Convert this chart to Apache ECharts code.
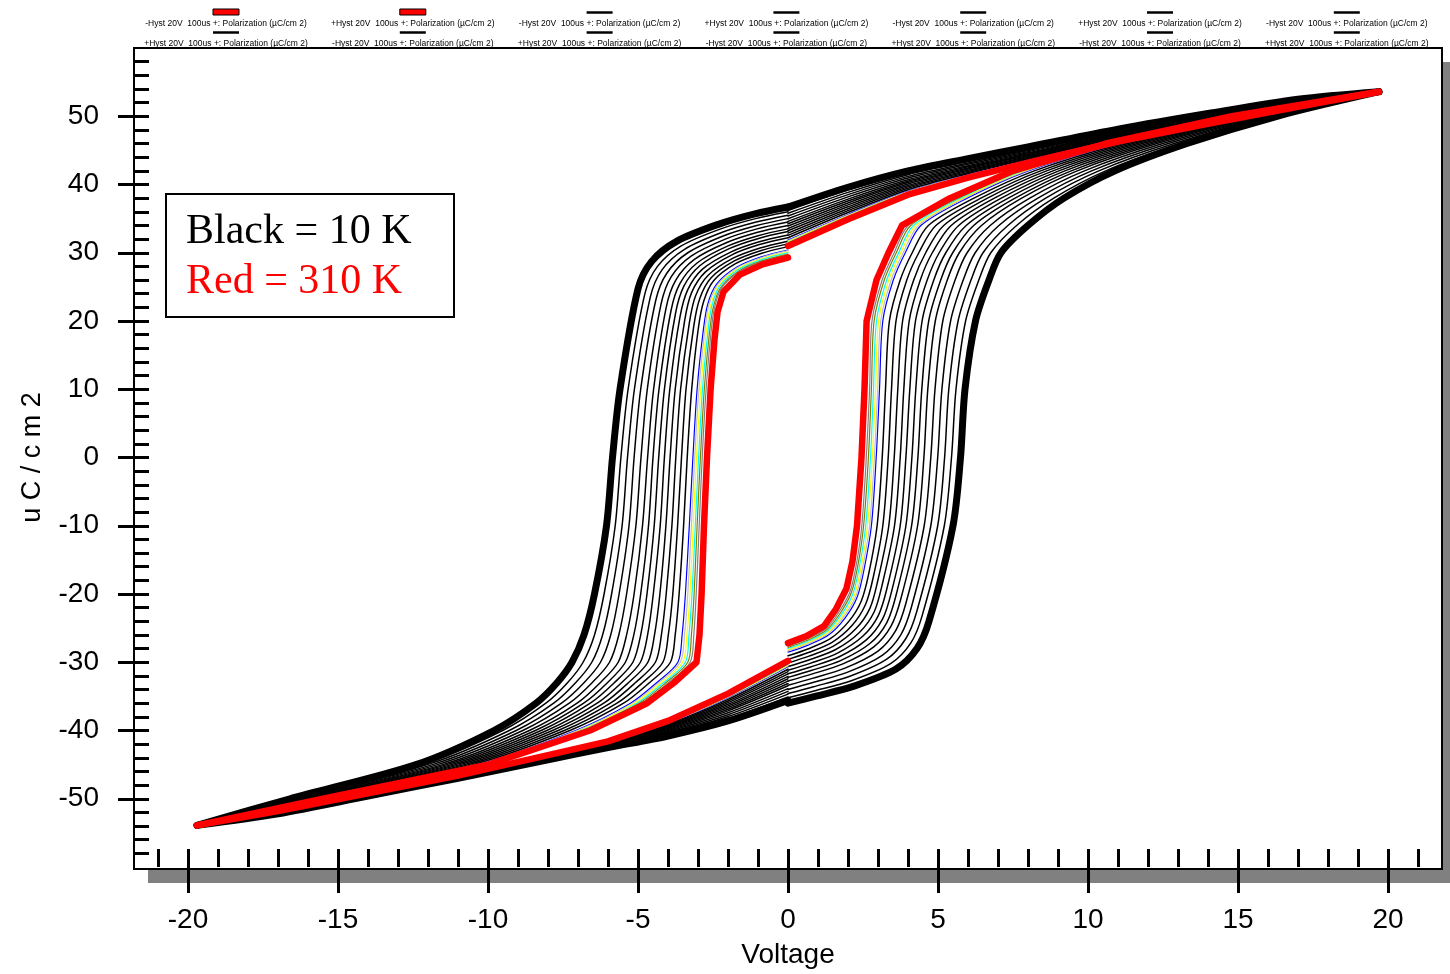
<!DOCTYPE html>
<html>
<head>
<meta charset="utf-8">
<script src="https://cdn.jsdelivr.net/npm/echarts@6/dist/echarts.min.js"></script>
<style>
  html, body { margin: 0; padding: 0; background: #fff; }
  #chart { width: 1450px; height: 974px; }
</style>
</head>
<body>
<div id="chart"></div>
<script>
// Ferroelectric hysteresis loops, 10 K (thick black) to 310 K (thick red).
// Loop order in every table below: 10 K, twelve intermediate black loops,
// six coloured loops, 310 K.
// Each loop is measured as two sweeps: "-Hyst" (0 -> -20 V -> 0) and "+Hyst" (0 -> +20 V -> 0).

const negName = '-Hyst 20V  100us +: Polarization (\u00b5C/cm 2)';
const posName = '+Hyst 20V  100us +: Polarization (\u00b5C/cm 2)';

const loopColors = ['#000000',
  '#000000', '#000000', '#000000', '#000000', '#000000', '#000000',
  '#000000', '#000000', '#000000', '#000000', '#000000', '#000000',
  '#0000ff', '#c0c0c0', '#ffff00', '#00ffff', '#808000', '#808080',
  '#ff0000'];

// sweep tips (V, uC/cm2)
const tipV = 19.7;
const negTipP = -53.9;
const posTipP = 53.6;

// ---- "-Hyst", outgoing half: V = 0 -> -20 (switching branch, upper left) ----
const cStartP = [36.7, 36.0, 35.5, 35.0, 34.5, 34.0, 33.5, 33.1, 32.6, 32.2, 31.7, 31.3, 30.9, 30.4, 30.3, 30.1, 30.0, 29.8, 29.7, 29.3];
// knee: voltage reached once P has dropped by these amounts below its start value
const cKneeDrop = [1, 2.5, 5, 8, 12];
const cKneeV = [
  [-1.10, -1.08, -1.06, -1.04, -1.03, -1.01, -1.00, -0.98, -0.96, -0.95, -0.93, -0.92, -0.90, -0.89, -0.88, -0.88, -0.87, -0.87, -0.86, -0.85],
  [-2.30, -2.24, -2.19, -2.14, -2.09, -2.04, -2.00, -1.96, -1.91, -1.87, -1.83, -1.79, -1.75, -1.70, -1.69, -1.68, -1.66, -1.65, -1.63, -1.60],
  [-3.70, -3.56, -3.45, -3.34, -3.23, -3.13, -3.03, -2.94, -2.85, -2.75, -2.66, -2.57, -2.48, -2.38, -2.35, -2.32, -2.29, -2.26, -2.23, -2.15],
  [-4.55, -4.35, -4.20, -4.04, -3.89, -3.74, -3.60, -3.47, -3.34, -3.21, -3.08, -2.94, -2.81, -2.68, -2.64, -2.59, -2.55, -2.50, -2.46, -2.35],
  [-5.00, -4.77, -4.59, -4.41, -4.23, -4.06, -3.90, -3.75, -3.60, -3.44, -3.29, -3.14, -2.99, -2.83, -2.78, -2.73, -2.68, -2.63, -2.58, -2.45]
];
// switching and tail: voltage at fixed polarization levels
const cLevelP = [10, 0, -10, -20, -26, -30, -33, -36, -40, -45, -50];
const cLevelV = [
  [-5.60, -5.33, -5.12, -4.91, -4.69, -4.48, -4.30, -4.12, -3.94, -3.76, -3.58, -3.40, -3.21, -3.03, -2.97, -2.91, -2.85, -2.79, -2.73, -2.58],
  [-5.85, -5.57, -5.35, -5.13, -4.90, -4.68, -4.50, -4.31, -4.12, -3.93, -3.74, -3.55, -3.36, -3.17, -3.11, -3.05, -2.98, -2.92, -2.86, -2.70],
  [-6.05, -5.76, -5.53, -5.30, -5.07, -4.85, -4.65, -4.46, -4.26, -4.07, -3.87, -3.68, -3.48, -3.29, -3.22, -3.16, -3.09, -3.03, -2.96, -2.80],
  [-6.45, -6.13, -5.88, -5.63, -5.38, -5.13, -4.91, -4.70, -4.49, -4.27, -4.06, -3.84, -3.63, -3.42, -3.34, -3.27, -3.20, -3.13, -3.06, -2.88],
  [-6.80, -6.45, -6.18, -5.91, -5.64, -5.38, -5.14, -4.91, -4.68, -4.45, -4.22, -3.99, -3.76, -3.53, -3.45, -3.37, -3.30, -3.22, -3.14, -2.95],
  [-7.20, -6.83, -6.54, -6.25, -5.95, -5.66, -5.42, -5.17, -4.92, -4.67, -4.42, -4.17, -3.92, -3.67, -3.59, -3.51, -3.42, -3.34, -3.26, -3.05],
  [-7.70, -7.35, -7.08, -6.80, -6.53, -6.26, -6.02, -5.79, -5.55, -5.32, -5.09, -4.85, -4.62, -4.38, -4.31, -4.23, -4.15, -4.07, -3.99, -3.80],
  [-8.40, -8.07, -7.81, -7.55, -7.29, -7.03, -6.81, -6.59, -6.36, -6.14, -5.92, -5.70, -5.48, -5.25, -5.18, -5.11, -5.03, -4.96, -4.88, -4.70],
  [-9.80, -9.51, -9.29, -9.06, -8.84, -8.62, -8.42, -8.23, -8.04, -7.85, -7.66, -7.46, -7.27, -7.08, -7.02, -6.95, -6.89, -6.82, -6.76, -6.60],
  [-12.40, -12.18, -12.02, -11.85, -11.68, -11.51, -11.37, -11.22, -11.08, -10.94, -10.79, -10.65, -10.50, -10.36, -10.31, -10.26, -10.22, -10.17, -10.12, -10.00],
  [-16.60, -16.50, -16.42, -16.34, -16.26, -16.18, -16.11, -16.04, -15.97, -15.90, -15.83, -15.76, -15.69, -15.62, -15.60, -15.58, -15.55, -15.53, -15.51, -15.50]
];

// ---- "-Hyst", return half: V = -20 -> 0 (lower left) ----
const dGridV = [-17, -14, -11, -8, -6, -4, -2, 0];
const dP = [
  [-52.20, -52.17, -52.15, -52.12, -52.10, -52.08, -52.05, -52.03, -52.01, -51.99, -51.97, -51.94, -51.92, -51.90, -51.89, -51.88, -51.87, -51.86, -51.85, -51.80],
  [-49.60, -49.56, -49.54, -49.51, -49.48, -49.45, -49.43, -49.40, -49.38, -49.36, -49.33, -49.31, -49.28, -49.26, -49.25, -49.24, -49.24, -49.23, -49.22, -49.20],
  [-47.00, -46.96, -46.94, -46.91, -46.88, -46.85, -46.83, -46.80, -46.78, -46.76, -46.73, -46.71, -46.68, -46.66, -46.65, -46.64, -46.64, -46.63, -46.62, -46.60],
  [-44.30, -44.24, -44.19, -44.14, -44.09, -44.04, -44.00, -43.96, -43.91, -43.87, -43.83, -43.79, -43.75, -43.70, -43.69, -43.68, -43.66, -43.65, -43.63, -43.60],
  [-42.50, -42.42, -42.36, -42.29, -42.23, -42.17, -42.11, -42.06, -42.00, -41.95, -41.90, -41.84, -41.79, -41.73, -41.72, -41.70, -41.68, -41.66, -41.64, -41.60],
  [-40.80, -40.60, -40.45, -40.29, -40.14, -39.99, -39.85, -39.72, -39.59, -39.46, -39.33, -39.19, -39.06, -38.93, -38.89, -38.84, -38.80, -38.75, -38.71, -38.60],
  [-38.60, -38.24, -37.96, -37.68, -37.40, -37.12, -36.88, -36.64, -36.40, -36.16, -35.92, -35.68, -35.44, -35.20, -35.12, -35.04, -34.96, -34.88, -34.80, -34.60],
  [-35.60, -35.08, -34.67, -34.27, -33.86, -33.45, -33.11, -32.76, -32.41, -32.06, -31.71, -31.37, -31.02, -30.67, -30.55, -30.44, -30.32, -30.21, -30.09, -29.80]
];

// ---- "+Hyst", outgoing half: V = 0 -> +20 (switching branch, lower right) ----
const aStartP = [-36.00, -35.21, -34.59, -33.98, -33.36, -32.74, -32.22, -31.69, -31.16, -30.63, -30.10, -29.58, -29.05, -28.52, -28.34, -28.17, -27.99, -27.82, -27.64, -27.20];
const aKneeRise = [1, 2.5, 5, 8, 12];
const aKneeV = [
  [0.90, 0.87, 0.85, 0.83, 0.81, 0.79, 0.77, 0.75, 0.74, 0.72, 0.70, 0.68, 0.66, 0.65, 0.64, 0.63, 0.63, 0.62, 0.62, 0.60],
  [2.20, 2.11, 2.04, 1.97, 1.90, 1.83, 1.77, 1.71, 1.65, 1.59, 1.53, 1.47, 1.41, 1.35, 1.33, 1.31, 1.29, 1.27, 1.25, 1.20],
  [3.60, 3.42, 3.28, 3.14, 3.00, 2.86, 2.74, 2.62, 2.50, 2.38, 2.26, 2.14, 2.02, 1.90, 1.86, 1.82, 1.78, 1.74, 1.70, 1.60],
  [4.30, 4.09, 3.92, 3.76, 3.59, 3.43, 3.29, 3.15, 3.01, 2.87, 2.73, 2.58, 2.44, 2.30, 2.26, 2.21, 2.16, 2.11, 2.07, 1.95],
  [4.70, 4.47, 4.29, 4.11, 3.93, 3.76, 3.60, 3.45, 3.30, 3.14, 2.99, 2.84, 2.69, 2.53, 2.48, 2.43, 2.38, 2.33, 2.28, 2.15]
];
const aLevelP = [-10, 0, 10, 20, 26, 30, 34, 38, 42, 46, 50];
const aLevelV = [
  [5.50, 5.21, 4.99, 4.76, 4.54, 4.32, 4.12, 3.93, 3.74, 3.55, 3.36, 3.16, 2.97, 2.78, 2.72, 2.65, 2.59, 2.52, 2.46, 2.30],
  [5.75, 5.45, 5.22, 4.99, 4.76, 4.53, 4.33, 4.13, 3.93, 3.74, 3.54, 3.34, 3.14, 2.94, 2.88, 2.81, 2.75, 2.68, 2.61, 2.45],
  [5.90, 5.60, 5.36, 5.13, 4.90, 4.66, 4.46, 4.26, 4.06, 3.86, 3.66, 3.45, 3.25, 3.05, 2.99, 2.92, 2.85, 2.78, 2.72, 2.55],
  [6.25, 5.92, 5.67, 5.42, 5.16, 4.91, 4.69, 4.47, 4.25, 4.04, 3.82, 3.60, 3.38, 3.16, 3.09, 3.02, 2.95, 2.87, 2.80, 2.62],
  [6.70, 6.36, 6.10, 5.84, 5.57, 5.31, 5.09, 4.86, 4.64, 4.41, 4.19, 3.96, 3.74, 3.51, 3.44, 3.36, 3.29, 3.21, 3.14, 2.95],
  [7.10, 6.76, 6.50, 6.24, 5.97, 5.71, 5.49, 5.26, 5.04, 4.81, 4.59, 4.36, 4.14, 3.91, 3.84, 3.76, 3.69, 3.61, 3.54, 3.35],
  [8.00, 7.62, 7.33, 7.03, 6.74, 6.45, 6.19, 5.94, 5.69, 5.44, 5.19, 4.93, 4.68, 4.43, 4.35, 4.26, 4.18, 4.09, 4.01, 3.80],
  [9.20, 8.86, 8.59, 8.33, 8.06, 7.79, 7.57, 7.34, 7.11, 6.88, 6.65, 6.43, 6.20, 5.97, 5.89, 5.82, 5.74, 5.67, 5.59, 5.40],
  [10.90, 10.59, 10.36, 10.12, 9.88, 9.64, 9.44, 9.23, 9.03, 8.83, 8.62, 8.42, 8.21, 8.01, 7.94, 7.87, 7.81, 7.74, 7.67, 7.50],
  [13.30, 13.06, 12.87, 12.68, 12.49, 12.30, 12.14, 11.98, 11.81, 11.65, 11.49, 11.33, 11.17, 11.00, 10.95, 10.90, 10.84, 10.79, 10.73, 10.60],
  [16.30, 16.16, 16.06, 15.95, 15.85, 15.74, 15.65, 15.56, 15.48, 15.39, 15.30, 15.20, 15.11, 15.02, 14.99, 14.96, 14.93, 14.90, 14.87, 14.80]
];

// ---- "+Hyst", return half: V = +20 -> 0 (upper right) ----
const bGridV = [17, 14, 11, 8, 6, 4, 2, 0];
const bP = [
  [52.50, 52.40, 52.32, 52.25, 52.17, 52.09, 52.03, 51.96, 51.89, 51.83, 51.76, 51.70, 51.63, 51.56, 51.54, 51.52, 51.50, 51.48, 51.45, 51.40],
  [50.40, 50.26, 50.16, 50.05, 49.95, 49.84, 49.75, 49.66, 49.58, 49.49, 49.40, 49.30, 49.21, 49.12, 49.09, 49.06, 49.03, 49.00, 48.97, 48.90],
  [48.10, 47.94, 47.81, 47.69, 47.56, 47.43, 47.33, 47.22, 47.11, 47.00, 46.89, 46.79, 46.68, 46.57, 46.53, 46.50, 46.46, 46.43, 46.39, 46.30],
  [45.50, 45.29, 45.13, 44.97, 44.81, 44.65, 44.51, 44.37, 44.23, 44.10, 43.96, 43.82, 43.68, 43.54, 43.50, 43.45, 43.41, 43.36, 43.31, 43.20],
  [43.80, 43.55, 43.35, 43.16, 42.96, 42.76, 42.60, 42.43, 42.26, 42.09, 41.92, 41.76, 41.59, 41.42, 41.36, 41.31, 41.25, 41.20, 41.14, 41.00],
  [42.00, 41.68, 41.44, 41.19, 40.95, 40.70, 40.49, 40.28, 40.07, 39.86, 39.65, 39.44, 39.23, 39.02, 38.95, 38.88, 38.81, 38.74, 38.67, 38.50],
  [39.60, 39.18, 38.85, 38.52, 38.19, 37.86, 37.58, 37.30, 37.01, 36.73, 36.45, 36.17, 35.89, 35.60, 35.51, 35.42, 35.32, 35.23, 35.13, 34.90],
  [36.70, 36.19, 35.79, 35.39, 34.99, 34.59, 34.25, 33.91, 33.56, 33.22, 32.88, 32.54, 32.20, 31.85, 31.74, 31.63, 31.51, 31.40, 31.28, 31.00]
];

// axis tick positions
const xMajor = [-20, -15, -10, -5, 0, 5, 10, 15, 20];
const xMinor = [-21, -20, -19, -18, -17, -16, -15, -14, -13, -12, -11, -10, -9, -8, -7, -6, -5, -4, -3, -2, -1,
  0, 1, 2, 3, 4, 5, 6, 7, 8, 9, 10, 11, 12, 13, 14, 15, 16, 17, 18, 19, 20, 21];
const yMajor = [-50, -40, -30, -20, -10, 0, 10, 20, 30, 40, 50];
const yMinor = [-58, -56, -54, -52, -50, -48, -46, -44, -42, -40, -38, -36, -34, -32, -30, -28, -26, -24, -22, -20,
  -18, -16, -14, -12, -10, -8, -6, -4, -2, 0, 2, 4, 6, 8, 10, 12, 14, 16, 18, 20, 22, 24, 26, 28, 30, 32, 34, 36,
  38, 40, 42, 44, 46, 48, 50, 52, 54, 56, 58];

// ---------- build the four branches of a loop ----------
function branchNegOut(k) {
  const pts = [[0, cStartP[k]]];
  cKneeDrop.forEach((d, j) => pts.push([cKneeV[j][k], cStartP[k] - d]));
  cLevelP.forEach((p, j) => pts.push([cLevelV[j][k], p]));
  pts.push([-tipV, negTipP]);
  return pts;
}
function branchNegBack(k) {
  const pts = [[-tipV, negTipP]];
  dGridV.forEach((v, j) => pts.push([v, dP[j][k]]));
  return pts;
}
function branchPosOut(k) {
  const pts = [[0, aStartP[k]]];
  aKneeRise.forEach((d, j) => pts.push([aKneeV[j][k], aStartP[k] + d]));
  aLevelP.forEach((p, j) => pts.push([aLevelV[j][k], p]));
  pts.push([tipV, posTipP]);
  return pts;
}
function branchPosBack(k) {
  const pts = [[tipV, posTipP]];
  bGridV.forEach((v, j) => pts.push([v, bP[j][k]]));
  return pts;
}

const nLoops = loopColors.length;
const drawOrder = [];
for (let k = 1; k < nLoops - 1; k++) drawOrder.push(k);
drawOrder.push(0, nLoops - 1);

const series = [];
drawOrder.forEach(k => {
  const isCold = k === 0;
  const isWarm = k === nLoops - 1;
  const colored = k >= 13 && !isWarm;
  const width = isCold ? 7 : isWarm ? 6.5 : colored ? 1.2 : 1.5;
  const base = {
    type: 'line',
    showSymbol: false,
    symbol: 'none',
    smooth: isWarm ? false : 0.3,
    silent: true,
    animation: false,
    z: isWarm ? 5 : isCold ? 4 : 2,
    lineStyle: { color: loopColors[k], width: width, cap: 'round', join: 'round' }
  };
  series.push(Object.assign({}, base, { name: negName, data: branchNegOut(k) }));
  series.push(Object.assign({}, base, { name: negName, data: branchNegBack(k) }));
  series.push(Object.assign({}, base, { name: posName, data: branchPosOut(k) }));
  series.push(Object.assign({}, base, { name: posName, data: branchPosBack(k) }));
});

// ---------- legend strip along the top (two rows of seven entries) ----------
const axisFont = "'Liberation Sans Narrow', 'Arial Narrow', 'Liberation Sans', Arial, sans-serif";
const legendEls = [];
for (let i = 0; i < 7; i++) {
  const cx = 226 + 186.8 * i;
  const top = i % 2 === 0 ? negName : posName;
  const bottom = i % 2 === 0 ? posName : negName;
  if (i < 2) {
    legendEls.push({ type: 'rect', shape: { x: cx - 13, y: 9, width: 26, height: 6 },
      style: { fill: '#ff0000', stroke: '#000', lineWidth: 1 }, z: 20 });
  } else {
    legendEls.push({ type: 'line', shape: { x1: cx - 13, y1: 12.5, x2: cx + 13, y2: 12.5 },
      style: { stroke: '#000', lineWidth: 2.5 }, z: 20 });
  }
  legendEls.push({ type: 'line', shape: { x1: cx - 13, y1: 32.5, x2: cx + 13, y2: 32.5 },
    style: { stroke: '#000', lineWidth: 2.5 }, z: 20 });
  legendEls.push({ type: 'text', x: cx, y: 24, z: 20,
    style: { text: top, fill: '#000', font: "8.5px " + axisFont, textAlign: 'center', textVerticalAlign: 'middle' } });
  legendEls.push({ type: 'text', x: cx, y: 44, z: 20,
    style: { text: bottom, fill: '#000', font: "8.5px " + axisFont, textAlign: 'center', textVerticalAlign: 'middle' } });
}

const chart = echarts.init(document.getElementById('chart'), null, { renderer: 'canvas' });

const hiddenLine = { show: false, onZero: false };

chart.setOption({
  animation: false,
  backgroundColor: '#ffffff',
  grid: { left: 134, top: 48, right: 8, bottom: 105, show: false, containLabel: false },
  xAxis: [
    {
      type: 'value', min: -21.8, max: 21.8, position: 'bottom',
      axisLine: hiddenLine, splitLine: { show: false },
      axisTick: { show: true, inside: true, length: 18, customValues: xMinor, lineStyle: { color: '#000', width: 3 } },
      axisLabel: { show: false, customValues: xMinor }
    },
    {
      type: 'value', min: -21.8, max: 21.8, position: 'bottom',
      axisLine: hiddenLine, splitLine: { show: false },
      axisTick: { show: true, inside: false, length: 26, customValues: xMajor, lineStyle: { color: '#000', width: 3 } },
      axisLabel: { show: true, customValues: xMajor, margin: 39, color: '#000', fontSize: 28, fontFamily: axisFont },
      name: 'Voltage', nameLocation: 'middle', nameGap: 74,
      nameTextStyle: { color: '#000', fontSize: 28, fontFamily: axisFont }
    }
  ],
  yAxis: [
    {
      type: 'value', min: -60, max: 60, position: 'left',
      axisLine: hiddenLine, splitLine: { show: false },
      axisTick: { show: true, inside: true, length: 15, customValues: yMinor, lineStyle: { color: '#000', width: 3 } },
      axisLabel: { show: false, customValues: yMinor }
    },
    {
      type: 'value', min: -60, max: 60, position: 'left',
      axisLine: hiddenLine, splitLine: { show: false },
      axisTick: { show: true, inside: false, length: 16, customValues: yMajor, lineStyle: { color: '#000', width: 3 } },
      axisLabel: { show: true, customValues: yMajor, margin: 35, color: '#000', fontSize: 28, fontFamily: axisFont },
      name: 'u C / c m 2', nameLocation: 'middle', nameGap: 88,
      nameTextStyle: { color: '#000', fontSize: 27, fontFamily: axisFont }
    }
  ],
  graphic: [
    // drop shadow behind the plot frame
    { type: 'rect', z: -10, shape: { x: 148, y: 62, width: 1320, height: 821 }, style: { fill: '#808080' } },
    // plot panel and frame
    { type: 'rect', z: -9, shape: { x: 134, y: 48, width: 1308, height: 821 },
      style: { fill: '#ffffff', stroke: '#000000', lineWidth: 2 } },
    // temperature key
    { type: 'rect', z: 30, shape: { x: 166, y: 194, width: 288, height: 123 },
      style: { fill: '#ffffff', stroke: '#000000', lineWidth: 2 } },
    { type: 'text', z: 31, x: 186, y: 232,
      style: { text: 'Black = 10 K', fill: '#000000', font: "42px 'Liberation Serif', 'Times New Roman', serif", textVerticalAlign: 'middle' } },
    { type: 'text', z: 31, x: 186, y: 282,
      style: { text: 'Red = 310 K', fill: '#ff0000', font: "42px 'Liberation Serif', 'Times New Roman', serif", textVerticalAlign: 'middle' } }
  ].concat(legendEls),
  series: series
});
</script>
</body>
</html>
